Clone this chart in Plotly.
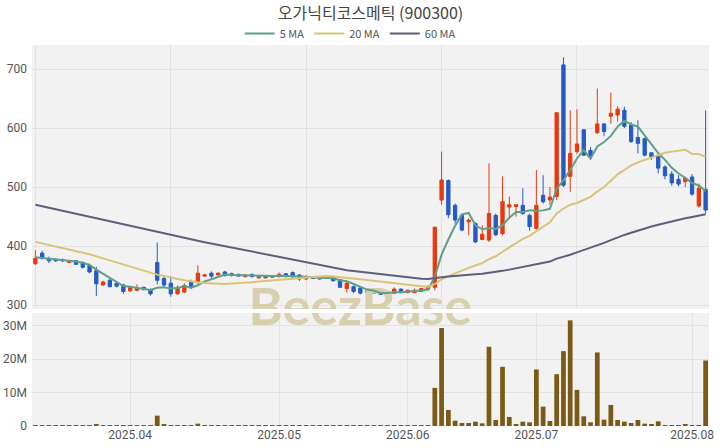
import plotly.graph_objects as go

TITLE = "오가닉티코스메틱 (900300)"

TRADING_DAYS = {
    "2025-03": [12, 13, 14, 17, 18, 19, 20, 21, 24, 25, 26, 27, 28, 31],
    "2025-04": [1, 2, 3, 4, 7, 8, 9, 10, 11, 14, 15, 16, 17, 18, 21, 22, 23, 24, 25, 28, 29, 30],
    "2025-05": [2, 7, 8, 9, 12, 13, 14, 15, 16, 19, 20, 21, 22, 23, 26, 27, 28, 29, 30],
    "2025-06": [2, 4, 5, 9, 10, 11, 12, 13, 16, 17, 18, 19, 20, 23, 24, 25, 26, 27, 30],
    "2025-07": [1, 2, 3, 4, 7, 8, 9, 10, 11, 14, 15, 16, 17, 18, 21, 22, 23, 24, 25, 28, 29, 30, 31],
    "2025-08": [1, 4, 5],
}
DATES = [f"{m}-{d:02d}" for m, days in TRADING_DAYS.items() for d in days]

OPEN = [370, 388, 378, 377, 377, 372, 375, 372, 367, 358,
        334, 342, 337, 334, 324, 325, 330, 326, 372, 345,
        337, 319, 322, 339, 339, 349, 354, 351, 356, 353,
        352, 348, 352, 346, 346, 347, 348, 353, 355, 351,
        344, 346, 344, 345, 348, 343, 328, 331, 329, 325,
        322, 324, 320, 320, 327, 321, 321, 323, 327, 330,
        478, 511, 469, 452, 441, 438, 411, 410, 452, 421,
        466, 467, 469, 452, 430, 486, 478, 484, 707, 518,
        560, 597, 562, 592, 607, 620, 622, 630, 605, 584,
        582, 558, 552, 534, 522, 513, 509, 517, 468, 496]
HIGH = [393, 392, 382, 379, 379, 376, 376, 374, 370, 365,
        341, 345, 339, 336, 332, 335, 331, 328, 406, 348,
        348, 333, 337, 343, 367, 353, 357, 355, 358, 355,
        353, 352, 353, 349, 350, 351, 355, 354, 357, 352,
        350, 348, 348, 348, 349, 344, 340, 333, 331, 326,
        323, 325, 324, 330, 328, 326, 328, 329, 334, 432,
        560, 513, 472, 455, 447, 440, 435, 540, 455, 518,
        484, 471, 498, 455, 529, 520, 500, 626, 720, 630,
        632, 598, 568, 667, 608, 660, 637, 636, 610, 613,
        584, 559, 555, 537, 527, 520, 517, 522, 506, 630]
LOW = [368, 377, 371, 373, 373, 371, 368, 362, 354, 315,
       332, 330, 330, 319, 322, 323, 325, 316, 335, 330,
       314, 317, 320, 327, 336, 348, 346, 350, 348, 348,
       348, 347, 347, 345, 345, 346, 347, 347, 346, 341,
       342, 344, 343, 344, 340, 329, 321, 320, 318, 319,
       319, 317, 319, 319, 320, 320, 320, 322, 326, 325,
       470, 447, 438, 425, 418, 405, 410, 407, 417, 418,
       447, 450, 453, 426, 428, 472, 470, 478, 500, 492,
       556, 553, 548, 590, 586, 607, 611, 600, 575, 557,
       552, 546, 523, 513, 502, 501, 500, 485, 465, 455]
CLOSE = [379, 379, 375, 375, 375, 375, 369, 364, 356, 336,
         339, 331, 332, 323, 330, 329, 326, 319, 342, 334,
         319, 330, 333, 331, 354, 351, 349, 354, 350, 350,
         349, 351, 348, 348, 349, 350, 352, 348, 348, 344,
         347, 345, 347, 347, 341, 330, 337, 323, 320, 321,
         320, 318, 323, 327, 321, 325, 325, 328, 330, 432,
         512, 453, 444, 427, 444, 407, 420, 455, 419, 475,
         470, 470, 455, 433, 469, 475, 483, 626, 503, 557,
         573, 554, 553, 607, 594, 625, 632, 603, 577, 574,
         554, 551, 532, 519, 507, 505, 515, 488, 498, 461]
VOLUME_M = [0.2, 0.12, 0.1, 0.05, 0.06, 0.1, 0.2, 0.15, 0.1, 0.5,
            0.1, 0.08, 0.05, 0.1, 0.1, 0.06, 0.05, 0.12, 3.1, 0.4,
            0.3, 0.25, 0.3, 0.3, 0.7, 0.2, 0.15, 0.1, 0.1, 0.1,
            0.06, 0.05, 0.08, 0.05, 0.05, 0.06, 0.08, 0.06, 0.1, 0.08,
            0.06, 0.05, 0.05, 0.06, 0.08, 0.12, 0.1, 0.12, 0.1, 0.08,
            0.06, 0.1, 0.15, 0.08, 0.06, 0.05, 0.08, 0.1, 0.15, 11.4,
            29.3, 4.8, 1.6, 0.9, 0.9, 1.3, 0.8, 23.7, 1.8, 17.7,
            2.7, 0.5, 1.3, 1.1, 16.9, 5.8, 1.5, 15.5, 22.4, 31.6,
            10.8, 2.9, 1.1, 22.0, 1.9, 6.3, 1.8, 1.3, 0.9, 1.8,
            0.7, 0.6, 1.4, 0.3, 0.3, 0.3, 0.4, 0.25, 0.2, 19.6]
MA5 = [381, 380, 379, 378, 376.6, 375.8, 373.8, 371.6, 367.8, 360,
       352.8, 345.2, 338.8, 332.2, 331, 329, 328, 325.4, 329.2, 330,
       328, 328.8, 331.6, 329.4, 333.4, 339.8, 343.6, 347.8, 351.6, 350.8,
       350.4, 350.8, 349.6, 349.2, 349, 349.2, 349.4, 349.4, 349.4, 348.4,
       347.8, 346.4, 346.2, 346, 345.4, 342, 340.4, 335.6, 330.2, 326.2,
       324.2, 320.4, 320.4, 321.8, 321.8, 322.8, 324.2, 325.2, 325.8, 348,
       385.4, 411, 434.2, 453.6, 456, 435, 428.4, 430.6, 429, 435.2,
       447.8, 457.8, 457.8, 460.6, 459.4, 460.4, 463, 497.2, 511.2, 528.8,
       548.4, 562.6, 548, 568.8, 576.2, 586.6, 602.2, 612.2, 606.2, 602.2,
       588, 571.8, 557.6, 546, 532.6, 522.8, 515.6, 506.8, 502.6, 493.4]
MA20 = [407, 404.5, 402, 399.5, 397, 394.5, 392, 389.5, 386, 382.5,
        379, 375.5, 372, 368.5, 365, 361, 357.5, 354, 351.5, 349.4,
        346.4, 344, 341.9, 339.7, 338.6, 337.4, 336.4, 335.9, 335.6, 336.3,
        336.8, 337.8, 338.6, 339.9, 340.8, 341.9, 343.2, 344.6, 344.9, 345.4,
        346.8, 347.6, 348.3, 349.1, 348.4, 347.4, 346.8, 345.2, 343.7, 342.3,
        340.8, 339.2, 337.9, 336.9, 335.5, 334.2, 332.9, 331.9, 331, 335.4,
        343.6, 349, 353.9, 357.9, 363, 366.9, 371, 377.6, 382.6, 390.3,
        397.8, 405.4, 412, 417.3, 424.7, 432.2, 440.1, 455, 463.6, 469.9,
        472.9, 478, 483.4, 492.4, 499.9, 510.8, 521.4, 528.8, 536.7, 541.7,
        545.9, 549.9, 553.8, 558.1, 560, 561.5, 563.1, 556.2, 555.9, 551.1]
MA60 = [470, 467.4, 464.8, 462.2, 459.6, 457, 454.4, 451.8, 449.2, 446.6,
        444, 441.4, 438.8, 436.2, 433.6, 431, 428.4, 425.8, 423.2, 420.6,
        418, 415.7, 413.4, 411.1, 408.8, 406.5, 404.2, 401.9, 399.6, 397.3,
        395, 392.8, 390.5, 388.3, 386, 383.8, 381.5, 379.3, 377, 374.8,
        372.5, 370.3, 368, 365.8, 363.5, 361.3, 359, 357.6, 356.2, 354.9,
        353.5, 352.1, 350.7, 349.4, 348, 346.8, 345.7, 344.7, 344, 345,
        347.2, 348.4, 349.6, 350.4, 351.6, 352.1, 353, 354.5, 355.5, 357.9,
        360, 362.4, 364.4, 366.2, 368.6, 371, 373.6, 378.7, 381.4, 385.1,
        389.3, 393.1, 396.7, 401.3, 405.3, 409.9, 414.6, 418.8, 422.5, 426.3,
        429.7, 433, 436.1, 439, 441.6, 444.2, 446.9, 449.2, 451.7, 453.7]

MONTH_TICKS = ["2025-04-01", "2025-05-02", "2025-06-02", "2025-07-01", "2025-08-01"]
MONTH_LABELS = ["2025.04", "2025.05", "2025.06", "2025.07", "2025.08"]
PRICE_TICKS = [300, 400, 500, 600, 700]
VOL_TICKS = [0, 10e6, 20e6, 30e6]
VOL_LABELS = ["0", "10M", "20M", "30M"]
TOP_GRID_DATES = DATES[0::20]

WATERMARK = "BeezBase"
WM_DATE = DATES[48]

FONT = "Noto Sans CJK KR"
TICK_FONT = "Roboto"
UP = "#e8390e"
DOWN = "#245bc6"
VOL_COLOR = "#7a5a16"
BG = "#f2f2f2"
GRID = "#e2e2e2"
WM_COLOR = "#d8cfae"

volume = [v * 1e6 for v in VOLUME_M]

fig = go.Figure()

# watermark (drawn first so it sits below the marks, clipped to each panel)
for yv, xa, ya in [(287.5, "x", "y"), (33.95e6, "x2", "y2")]:
    fig.add_trace(go.Scatter(x=[WM_DATE], y=[yv], mode="text", text=[f"<b>{WATERMARK}</b>"],
                             textposition="middle center",
                             textfont=dict(family="Lato", size=52, color=WM_COLOR),
                             cliponaxis=True, showlegend=False, hoverinfo="skip",
                             xaxis=xa, yaxis=ya))

fig.add_trace(go.Candlestick(
    x=DATES, open=OPEN, high=HIGH, low=LOW, close=CLOSE,
    increasing=dict(line=dict(color=UP, width=1), fillcolor=UP),
    decreasing=dict(line=dict(color=DOWN, width=1), fillcolor=DOWN),
    showlegend=False, hoverinfo="skip", xaxis="x", yaxis="y"))

fig.add_trace(go.Scatter(x=DATES, y=MA5, mode="lines", name="5 MA",
                         line=dict(color="#5fa08a", width=2), xaxis="x", yaxis="y"))
fig.add_trace(go.Scatter(x=DATES, y=MA20, mode="lines", name="20 MA",
                         line=dict(color="#d8c477", width=2), xaxis="x", yaxis="y"))
fig.add_trace(go.Scatter(x=DATES, y=MA60, mode="lines", name="60 MA",
                         line=dict(color="#5c5f7c", width=2), xaxis="x", yaxis="y"))

fig.add_trace(go.Bar(x=DATES, y=volume, marker=dict(color=VOL_COLOR, line=dict(width=0)),
                     showlegend=False, hoverinfo="skip", xaxis="x2", yaxis="y2"))

tick_font = dict(family=TICK_FONT, size=12, color="#555")
n = len(DATES)
fig.update_layout(
    width=720, height=448,
    margin=dict(l=32, r=11, t=45, b=22),
    paper_bgcolor="white", plot_bgcolor=BG,
    font=dict(family=FONT, color="#444"),
    title=dict(text=TITLE, x=0.5, xref="paper", xanchor="center", y=0.97, yanchor="middle",
               font=dict(family=FONT, size=16, color="#444")),
    legend=dict(orientation="h", x=0.47, xanchor="center", y=0.992, yanchor="bottom",
                font=dict(family=FONT, size=11, color="#555"), bgcolor="rgba(0,0,0,0)"),
    bargap=0.3,
    xaxis=dict(type="category", categoryorder="array", categoryarray=DATES,
               domain=[0, 1], anchor="y", range=[-0.5, n - 0.5], automargin=False,
               tickmode="array", tickvals=TOP_GRID_DATES, showticklabels=False,
               showgrid=True, gridcolor=GRID, zeroline=False,
               rangeslider=dict(visible=False), fixedrange=True),
    yaxis=dict(domain=[0.307, 1], anchor="x", range=[293.2, 740.7], automargin=False,
               tickmode="array", tickvals=PRICE_TICKS, tickfont=tick_font,
               showgrid=True, gridcolor=GRID, zeroline=False, ticklabelstandoff=4),
    xaxis2=dict(type="category", categoryorder="array", categoryarray=DATES,
                domain=[0, 1], anchor="y2", range=[-0.5, n - 0.5], matches="x",
                automargin=False,
                tickmode="array", tickvals=MONTH_TICKS, ticktext=MONTH_LABELS,
                tickfont=tick_font, showgrid=True, gridcolor=GRID, zeroline=False),
    yaxis2=dict(domain=[0, 0.2966], anchor="x2", range=[0, 33.8e6], automargin=False,
                tickmode="array", tickvals=VOL_TICKS, ticktext=VOL_LABELS,
                tickfont=tick_font, showgrid=True, gridcolor=GRID, zeroline=False,
                ticklabelstandoff=4),
)

fig.write_html("out.html", config={"displayModeBar": False},
               post_script="document.body.style.margin='0';")
